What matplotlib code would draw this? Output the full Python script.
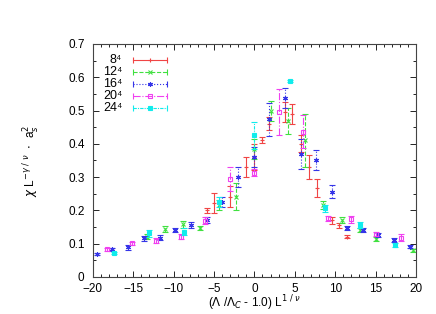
import matplotlib
matplotlib.use("Agg")
import matplotlib.pyplot as plt
from matplotlib.ticker import MultipleLocator
from matplotlib.legend_handler import HandlerBase
from matplotlib.lines import Line2D
import numpy as np

plt.rcParams['font.family'] = ['Liberation Sans', 'DejaVu Sans']

# data: x, y, error
x8 = [-5.9, -5.0, -3.0, -1.1, -0.1, 0.9, 1.8, 3.8, 4.6, 5.8, 6.7, 7.7, 9.6, 10.5, 11.5]
y8 = [0.200, 0.223, 0.241, 0.330, 0.360, 0.411, 0.460, 0.496, 0.491, 0.400, 0.330, 0.268, 0.170, 0.155, 0.121]
e8 = [0.008, 0.030, 0.032, 0.030, 0.040, 0.008, 0.020, 0.030, 0.030, 0.025, 0.035, 0.027, 0.010, 0.008, 0.004]

x12 = [-13.3, -11.1, -8.9, -6.7, -4.4, -2.3, -0.1, 2.0, 4.2, 6.3, 8.5, 10.8, 13.1, 15.1, 19.6]
y12 = [0.121, 0.144, 0.158, 0.146, 0.216, 0.241, 0.385, 0.500, 0.468, 0.410, 0.216, 0.171, 0.141, 0.114, 0.080]
e12 = [0.008, 0.008, 0.010, 0.006, 0.015, 0.040, 0.030, 0.030, 0.040, 0.080, 0.012, 0.008, 0.007, 0.006, 0.005]

x16 = [-19.5, -17.6, -15.6, -13.7, -11.7, -9.85, -7.8, -5.9, -4.0, -2.0, 0.0, 1.8, 3.8, 5.8, 7.6, 9.6, 11.5, 13.5, 15.3, 17.3, 19.3]
y16 = [0.069, 0.083, 0.089, 0.116, 0.118, 0.141, 0.156, 0.171, 0.226, 0.300, 0.360, 0.474, 0.537, 0.368, 0.350, 0.256, 0.146, 0.142, 0.126, 0.111, 0.091]
e16 = [0.004, 0.005, 0.008, 0.008, 0.008, 0.007, 0.008, 0.008, 0.015, 0.030, 0.030, 0.050, 0.030, 0.045, 0.030, 0.020, 0.006, 0.006, 0.006, 0.006, 0.005]

x20 = [-18.2, -15.2, -12.2, -9.1, -6.1, -3.0, 0.0, 3.0, 6.0, 9.1, 12.0, 15.1, 18.2]
y20 = [0.083, 0.101, 0.109, 0.121, 0.169, 0.294, 0.313, 0.496, 0.436, 0.176, 0.173, 0.129, 0.118]
e20 = [0.004, 0.005, 0.008, 0.008, 0.010, 0.036, 0.010, 0.070, 0.050, 0.008, 0.010, 0.007, 0.010]

x24 = [-17.4, -13.1, -8.7, -4.4, 0.0, 4.4, 8.7, 13.1, 17.4]
y24 = [0.073, 0.131, 0.136, 0.226, 0.425, 0.589, 0.206, 0.156, 0.096]
e24 = [0.003, 0.010, 0.010, 0.015, 0.040, 0.002, 0.010, 0.008, 0.005]

labels = ['8⁴', '12⁴', '16⁴', '20⁴', '24⁴']


class GnuplotKey(HandlerBase):
    # horizontal sample line with end caps and the point in the middle, like gnuplot
    def create_artists(self, legend, orig, xd, yd, w, h, fs, trans):
        c, m, fill, ls = orig
        y = yd + h / 2
        line = Line2D([xd, xd + w], [y, y], color=c, lw=0.8, linestyle=ls, transform=trans)
        caps = Line2D([xd, xd + w], [y, y], linestyle='none', marker='|', ms=5,
                      mew=0.8, color=c, transform=trans)
        pt = Line2D([xd + w / 2], [y], linestyle='none', marker=m, ms=3.5, mew=0.8,
                    color=c, mfc=(c if fill == 'full' else 'none'), transform=trans)
        return [line, caps, pt]


fig = plt.figure(figsize=(4.36, 3.14), dpi=100)
ax = fig.add_axes([0.213, 0.118, 0.741, 0.742])

styles = [
    ('#f04545', '+', 'none', '-'),
    ('#40e040', 'x', 'none', '--'),
    ('#3535e8', (6, 2, 0), 'none', ':'),
    ('#f040f0', 's', 'none', '-.'),
    ('#10ecec', 's', 'full', (0, (3, 1, 1, 1))),
]
data = [(x8, y8, e8), (x12, y12, e12), (x16, y16, e16), (x20, y20, e20), (x24, y24, e24)]

for (x, y, e), (c, m, fill, ls) in zip(data, styles):
    cont = ax.errorbar(x, y, yerr=e, fmt='none', ecolor=c, elinewidth=0.8,
                       capsize=2.5, capthick=0.8)
    cont[2][0].set_linestyle(ls)
    ax.plot(x, y, linestyle='none', marker=m, ms=3.5, mew=0.8, color=c,
            mfc=(c if fill == 'full' else 'none'), mec=c)

ax.set_xlim(-20, 20)
ax.set_ylim(0, 0.7)
ax.xaxis.set_major_locator(MultipleLocator(5))
ax.xaxis.set_minor_locator(MultipleLocator(1))
ax.yaxis.set_major_locator(MultipleLocator(0.1))
ax.yaxis.set_minor_locator(MultipleLocator(0.05))
ax.yaxis.set_major_formatter(plt.FuncFormatter(lambda v, p: f"{v:g}"))
ax.tick_params(which='both', direction='in', top=True, right=True, labelsize=8.5)
ax.tick_params(axis='x', pad=4)
ax.tick_params(axis='y', pad=6)
ax.tick_params(which='major', length=4, width=0.6)
ax.tick_params(which='minor', length=2, width=0.6)
for s in ax.spines.values():
    s.set_linewidth(0.8)
    s.set_color('#444444')

ax.set_xlabel(r'($\Lambda$ /$\Lambda_C$ - 1.0) L$^{1\ /\ \nu}$', fontsize=8.5, labelpad=-1)
ax.set_ylabel(r'$\chi$ L$^{-\gamma\ /\ \nu}$  $\cdot$  a$_s^2$', fontsize=8.5, labelpad=19)

leg = ax.legend(styles, labels, handler_map={tuple: GnuplotKey()},
                loc='upper left', bbox_to_anchor=(0.0, 1.0), frameon=False,
                markerfirst=False, fontsize=9, handlelength=2.65, handleheight=0.5,
                labelspacing=0.0, borderaxespad=0.4, handletextpad=0.9)
for t in leg.get_texts():
    t.set_ha('right')

fig.savefig('out.png', dpi=100)
